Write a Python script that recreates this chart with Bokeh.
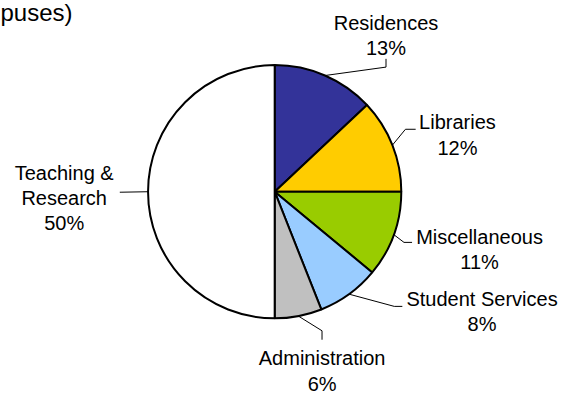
import math
from bokeh.plotting import figure
from bokeh.models import Range1d, ColumnDataSource
from bokeh.embed import file_html
from bokeh.resources import INLINE
from bokeh.core.properties import value

# ---------------- data ----------------
categories = ["Residences", "Libraries", "Miscellaneous", "Student Services",
              "Administration", "Teaching & Research"]
shares = [13, 12, 11, 8, 6, 50]
label_names = [["Residences"], ["Libraries"], ["Miscellaneous"], ["Student Services"],
               ["Administration"], ["Teaching &", "Research"]]
title_fragment = "puses)"

# ---------------- styles / layout ----------------
colors = ["#333399", "#FFCC00", "#99CC00", "#99CCFF", "#C0C0C0", "#FFFFFF"]
FONT = "Liberation Sans"
W, H = 561, 394
REF_W, REF_H = 577, 410
SX, SY = W / REF_W, H / REF_H
S = (SX + SY) / 2
CX, CY, R = 282, 199, 131          # pie centre / radius (reference px)
LINE_GAP = 26.3
# per-label: centre x, first baseline y, elbow point, end point (reference px)
label_layout = [
    (396.5, 23.3, (396.5, 69.3), (396.5, 60.7)),
    (470.0, 126.7, (416.5, 134.0), (427.0, 134.0)),
    (492.7, 246.0, (415.0, 251.7), (423.3, 251.7)),
    (495.3, 310.7, (405.0, 318.3), (413.3, 318.3)),
    (330.8, 372.5, (330.7, 343.7), (330.7, 353.0)),
    (65.5, 179.3, (124.0, 199.5), (122.7, 199.5)),
]


def px(x):
    return x * SX


def py(y):
    return H - y * SY


p = figure(width=W, height=H, output_backend="svg", toolbar_location=None,
           x_range=Range1d(0, W), y_range=Range1d(0, H),
           min_border=0, outline_line_color=None)
p.axis.visible = False
p.grid.visible = False
p.background_fill_color = "white"
p.border_fill_color = "white"

total = float(sum(shares))
starts, ends, mids = [], [], []
cum = 0.0
for s in shares:
    a0 = math.pi / 2 - 2 * math.pi * cum / total
    cum += s
    a1 = math.pi / 2 - 2 * math.pi * cum / total
    starts.append(a0)
    ends.append(a1)
    mids.append((a0 + a1) / 2)

cx, cy, r = px(CX), py(CY), R * S
src = ColumnDataSource(dict(start=starts, end=ends, color=colors, cat=categories))
p.wedge(x=cx, y=cy, radius=r, start_angle="start", end_angle="end", direction="clock",
        fill_color="color", line_color="black", line_width=2, source=src)

# leader lines
xs, ys = [], []
for m, (lx, lb, elbow, end) in zip(mids, label_layout):
    ex, ey = cx + r * math.cos(m), cy + r * math.sin(m)
    xs.append([ex, px(elbow[0]), px(end[0])])
    ys.append([ey, py(elbow[1]), py(end[1])])
p.multi_line(xs=xs, ys=ys, line_color="black", line_width=1)

# labels
tx, ty, tt = [], [], []
for names, s, (lx, lb, elbow, end) in zip(label_names, shares, label_layout):
    lines = names + ["%d%%" % s]
    for i, t in enumerate(lines):
        tx.append(px(lx))
        ty.append(py(lb + i * LINE_GAP))
        tt.append(t)
p.text(x=tx, y=ty, text=tt, text_font=value(FONT), text_font_size="20px",
       text_align="center", text_baseline="alphabetic", text_color="black")

# clipped title fragment (top-left)
p.text(x=[0], y=[py(13)], text=[title_fragment], text_font=value(FONT),
       text_font_size="24px", text_align="left", text_baseline="alphabetic",
       text_color="black")

open("out.html", "w").write(file_html(p, INLINE))
